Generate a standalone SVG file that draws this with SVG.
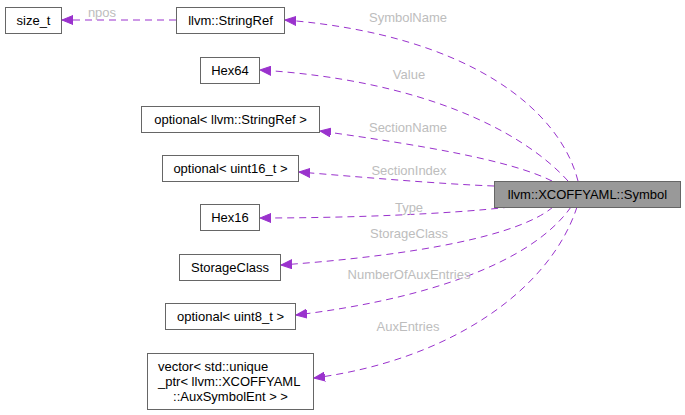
<svg xmlns="http://www.w3.org/2000/svg" width="685" height="415" viewBox="0 0 685 415">
<style>
.box{fill:#fff;stroke:#666;stroke-width:1}
.main{fill:#999;stroke:#666;stroke-width:1}
.t{font-family:"Liberation Sans",Arial,sans-serif;font-size:13px;fill:#000}
.lbl{font-family:"Liberation Sans",Arial,sans-serif;font-size:13px;fill:#bdbdbd;text-anchor:middle}
.e{fill:none;stroke:#9a32cd;stroke-width:1;stroke-dasharray:7,5}
</style>
<defs>
<marker id="ah" markerUnits="userSpaceOnUse" markerWidth="12" markerHeight="10" refX="11" refY="5" orient="auto">
<path d="M0,0.5 L11,5 L0,9.5 Z" fill="#9a32cd" stroke="#9a32cd"/>
</marker>
</defs>
<g id="edges">
<path class="e" d="M176,20 L62,20" marker-end="url(#ah)"/>
<path class="e" d="M578,181 C560,110 470,35 285,20" marker-end="url(#ah)"/>
<path class="e" d="M568,181 C522,130 420,80 260,70" marker-end="url(#ah)"/>
<path class="e" d="M552,181 C510,160 420,145 320,131" marker-end="url(#ah)"/>
<path class="e" d="M494,186 C440,184 360,177 299,172" marker-end="url(#ah)"/>
<path class="e" d="M510,207 C450,214 350,218 260,218" marker-end="url(#ah)"/>
<path class="e" d="M553,207 C520,235 420,255 281,265" marker-end="url(#ah)"/>
<path class="e" d="M571,207 C530,265 420,300 296,315" marker-end="url(#ah)"/>
<path class="e" d="M577,207 C550,290 450,360 314,378" marker-end="url(#ah)"/>
<text class="lbl" x="102" y="17">npos</text>
<text class="lbl" x="408" y="22">SymbolName</text>
<text class="lbl" x="409" y="79">Value</text>
<text class="lbl" x="408" y="132">SectionName</text>
<text class="lbl" x="409" y="175">SectionIndex</text>
<text class="lbl" x="409" y="212">Type</text>
<text class="lbl" x="409" y="238">StorageClass</text>
<text class="lbl" x="409" y="279">NumberOfAuxEntries</text>
<text class="lbl" x="408" y="331">AuxEntries</text>
</g>
<g id="symbol">
<rect class="main" x="494.5" y="181.5" width="186" height="26"/>
<text class="t" x="587.5" y="199" text-anchor="middle">llvm::XCOFFYAML::Symbol</text>
</g>
<g id="size_t">
<rect class="box" x="5.5" y="7.5" width="56" height="26"/>
<text class="t" x="33.5" y="25" text-anchor="middle">size_t</text>
</g>
<g id="stringref">
<rect class="box" x="176.5" y="7.5" width="108" height="26"/>
<text class="t" x="230.5" y="25" text-anchor="middle">llvm::StringRef</text>
</g>
<g id="hex64">
<rect class="box" x="200.5" y="57.5" width="59" height="26"/>
<text class="t" x="230" y="75" text-anchor="middle">Hex64</text>
</g>
<g id="opt_stringref">
<rect class="box" x="141.5" y="106.5" width="178" height="26"/>
<text class="t" x="230.5" y="124" text-anchor="middle">optional&lt; llvm::StringRef &gt;</text>
</g>
<g id="opt_uint16">
<rect class="box" x="162.5" y="155.5" width="136" height="26"/>
<text class="t" x="230.5" y="173" text-anchor="middle">optional&lt; uint16_t &gt;</text>
</g>
<g id="hex16">
<rect class="box" x="200.5" y="204.5" width="59" height="26"/>
<text class="t" x="230" y="222" text-anchor="middle">Hex16</text>
</g>
<g id="storageclass">
<rect class="box" x="179.5" y="254.5" width="101" height="26"/>
<text class="t" x="230" y="272" text-anchor="middle">StorageClass</text>
</g>
<g id="opt_uint8">
<rect class="box" x="165.5" y="303.5" width="130" height="26"/>
<text class="t" x="230.5" y="321" text-anchor="middle">optional&lt; uint8_t &gt;</text>
</g>
<g id="vector">
<rect class="box" x="147.5" y="353.5" width="166" height="56"/>
<text class="t" x="158" y="371">vector&lt; std::unique</text>
<text class="t" x="158" y="386">_ptr&lt; llvm::XCOFFYAML</text>
<text class="t" x="230.5" y="401" text-anchor="middle">::AuxSymbolEnt &gt; &gt;</text>
</g>
</svg>
